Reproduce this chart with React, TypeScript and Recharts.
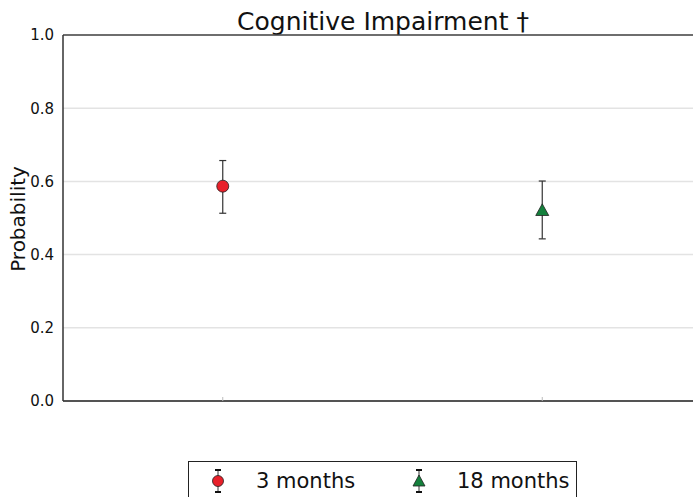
import React from 'react';
import { ComposedChart, Scatter, XAxis, YAxis, CartesianGrid, ErrorBar, Legend } from 'recharts';

const categories = ['3 months', '18 months'];
const xPositions = [0, 1];
const probabilities = [0.587, 0.521];
const lowerErrors = [0.074, 0.078];
const upperErrors = [0.07, 0.08];
const colors = ['#e8202a', '#14803c'];
const yTicks = [0, 0.2, 0.4, 0.6, 0.8, 1.0];
const title = 'Cognitive Impairment †';
const yLabel = 'Probability';

const seriesData = categories.map((c, i) => [
  { x: xPositions[i], y: probabilities[i], err: [lowerErrors[i], upperErrors[i]] },
]);

const FONT = 'DejaVu Sans, sans-serif';

const Circle = (props: any) => {
  const { cx, cy } = props;
  return <circle cx={cx} cy={cy} r={6} fill={colors[0]} stroke="#222" strokeWidth={0.8} />;
};
const Triangle = (props: any) => {
  const { cx, cy } = props;
  const s = 6.5;
  return (
    <polygon
      points={`${cx},${cy - s} ${cx - s},${cy + s * 0.8} ${cx + s},${cy + s * 0.8}`}
      fill={colors[1]}
      stroke="#222"
      strokeWidth={0.8}
    />
  );
};

const LegendMarker = ({ idx }: { idx: number }) => (
  <svg width={16} height={26} style={{ display: 'block' }}>
    <line x1={8} y1={2} x2={8} y2={24} stroke="#333" strokeWidth={1} />
    <line x1={5} y1={2} x2={11} y2={2} stroke="#111" strokeWidth={2} />
    <line x1={5} y1={24} x2={11} y2={24} stroke="#111" strokeWidth={2} />
    {idx === 0 ? (
      <circle cx={8} cy={13} r={5.5} fill={colors[0]} stroke="#222" strokeWidth={0.8} />
    ) : (
      <polygon points="8,7 2,18 14,18" fill={colors[1]} stroke="#222" strokeWidth={0.8} />
    )}
  </svg>
);

const LegendContent = () => (
  <div
    style={{
      width: 389,
      height: 44,
      border: '1px solid #222',
      boxSizing: 'border-box',
      fontFamily: FONT,
      fontSize: 21,
      color: '#111',
      position: 'relative',
      background: '#fff',
    }}
  >
    {categories.map((c, i) => (
      <div
        key={c}
        style={{
          position: 'absolute',
          left: i === 0 ? 21 : 222,
          top: 6,
          display: 'flex',
          alignItems: 'center',
        }}
      >
        <LegendMarker idx={i} />
        <span style={{ marginLeft: 30, whiteSpace: 'nowrap' }}>{c}</span>
      </div>
    ))}
  </div>
);

export default function App() {
  return (
    <div style={{ position: 'absolute', left: 0, top: 0, width: 693, height: 497, overflow: 'hidden', background: '#fff' }}>
      <ComposedChart width={720} height={497} margin={{ top: 35, right: 18, left: 0, bottom: 96 }}>
        <CartesianGrid vertical={false} stroke="#e3e3e3" strokeWidth={1.5} />
        <XAxis
          xAxisId="bottom"
          type="number"
          dataKey="x"
          domain={[-0.5, 1.5]}
          ticks={xPositions}
          height={1}
          axisLine={{ stroke: '#222', strokeWidth: 1.5 }}
          tickLine={{ stroke: '#bbb' }}
          tickSize={4}
          mirror
          tickFormatter={() => ''}
        />
        <XAxis
          xAxisId="top"
          orientation="top"
          type="number"
          dataKey="x"
          domain={[-0.5, 1.5]}
          ticks={xPositions}
          height={1}
          axisLine={{ stroke: '#444', strokeWidth: 1.5 }}
          tickLine={{ stroke: '#bbb' }}
          tickSize={4}
          mirror
          tickFormatter={() => ''}
        />
        <YAxis
          type="number"
          domain={[0, 1]}
          ticks={yTicks}
          width={63}
          axisLine={{ stroke: '#333', strokeWidth: 1.5 }}
          tickLine={false}
          tickFormatter={(v: number) => v.toFixed(1)}
          tick={{ fontFamily: FONT, fontSize: 15, fill: '#111' }}
          tickMargin={3}
        />
        {categories.map((c, i) => (
          <Scatter
            key={c}
            name={c}
            xAxisId="bottom"
            data={seriesData[i]}
            dataKey="y"
            shape={i === 0 ? Circle : Triangle}
            isAnimationActive={false}
          >
            <ErrorBar dataKey="err" direction="y" width={3.5} stroke="#333" strokeWidth={1.2} />
          </Scatter>
        ))}
        <Legend
          layout="horizontal"
          verticalAlign="middle"
          align="center"
          content={LegendContent}
          wrapperStyle={{ left: 188, top: 461, width: 389, height: 44 }}
        />
        <text x={383} y={30} textAnchor="middle" fontFamily={FONT} fontSize={25} fill="#111">
          {title}
        </text>
        <text
          x={25}
          y={219}
          textAnchor="middle"
          fontFamily={FONT}
          fontSize={20}
          fill="#111"
          transform="rotate(-90 25 219)"
        >
          {yLabel}
        </text>
      </ComposedChart>
    </div>
  );
}
